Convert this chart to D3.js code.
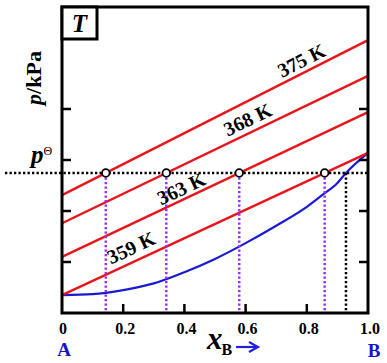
<!DOCTYPE html>
<html><head><meta charset="utf-8">
<script src="https://cdn.jsdelivr.net/npm/d3@7"></script>
<style>html,body{margin:0;padding:0;background:#fff;}svg{display:block;}</style>
</head><body>
<svg id="c" width="387" height="363"></svg>
<script>
// ---- data ----
const xTickValues = [0, 0.2, 0.4, 0.6, 0.8, 1.0];
const xTickLabels = ["0", "0.2", "0.4", "0.6", "0.8", "1.0"];
const yTickValues = [1, 2, 3, 4];
const temps = ["359 K", "363 K", "368 K", "375 K"];
const pPureA = [0.35, 1.10, 1.76, 2.31];
const pPureB = [3.14, 3.94, 4.65, 5.35];
const pStd = 2.745;
const vaporX = [0, 0.1, 0.2, 0.3, 0.4, 0.5, 0.6, 0.7, 0.8, 0.85, 0.9, 0.928, 1.0];
const vaporP = [0.35, 0.37, 0.45, 0.58, 0.80, 1.06, 1.37, 1.71, 2.08, 2.31, 2.55, 2.745, 3.14];
const dewX = 0.928;

// ---- layout ----
const L = 62, R = 368, T = 7, B = 313;
const serif = "'Liberation Serif','Times New Roman',serif";
const svg = d3.select("#c");
const x = d3.scaleLinear().domain([0, 1]).range([L, R]);
const y = d3.scaleLinear().domain([0, 6]).range([B, T]);

const red = "#e8161c", blue = "#1a1ad2", purple = "#9a33ee";

// vapor curve
svg.append("path")
  .datum(vaporX.map((d, i) => [d, vaporP[i]]))
  .attr("d", d3.line().x(d => x(d[0])).y(d => y(d[1])).curve(d3.curveMonotoneX))
  .attr("fill", "none").attr("stroke", blue).attr("stroke-width", 2.2);

// liquid lines
temps.forEach((t, i) => {
  svg.append("line")
    .attr("x1", x(0)).attr("y1", y(pPureA[i]))
    .attr("x2", x(1)).attr("y2", y(pPureB[i]))
    .attr("stroke", red).attr("stroke-width", 2.4);
});

// intersections with p standard
const liqX = temps.map((t, i) => (pStd - pPureA[i]) / (pPureB[i] - pPureA[i]));

// purple dotted verticals
liqX.forEach(v => {
  svg.append("line")
    .attr("x1", x(v)).attr("x2", x(v)).attr("y1", y(pStd)).attr("y2", B)
    .attr("stroke", purple).attr("stroke-width", 2.5).attr("stroke-dasharray", "2.3,2.2");
});
// black dotted vertical at dew point
svg.append("line")
  .attr("x1", x(dewX)).attr("x2", x(dewX)).attr("y1", y(pStd)).attr("y2", B)
  .attr("stroke", "#000").attr("stroke-width", 2.5).attr("stroke-dasharray", "2.3,2.2");
// horizontal p standard dotted
svg.append("line")
  .attr("x1", 5).attr("x2", R).attr("y1", y(pStd)).attr("y2", y(pStd))
  .attr("stroke", "#000").attr("stroke-width", 2.5).attr("stroke-dasharray", "2.3,2.2");

// circles
liqX.forEach(v => {
  svg.append("circle").attr("cx", x(v)).attr("cy", y(pStd)).attr("r", 3.8)
    .attr("fill", "#fff").attr("stroke", "#000").attr("stroke-width", 1.8);
});

// temperature labels
const labelPos = [0.245, 0.405, 0.625, 0.80];
const labelOff = [-14, -11, -13, -12];
temps.forEach((t, i) => {
  const ang = Math.atan2(y(pPureB[i]) - y(pPureA[i]), x(1) - x(0)) * 180 / Math.PI;
  const px = x(labelPos[i]);
  const py = y(pPureA[i] + (pPureB[i] - pPureA[i]) * labelPos[i]);
  svg.append("text")
    .attr("transform", `translate(${px},${py}) rotate(${ang}) translate(0,${labelOff[i]})`)
    .attr("text-anchor", "middle").attr("dominant-baseline", "central")
    .attr("font-family", serif).attr("font-weight", "bold").attr("font-size", 20)
    .text(t);
});

// frame
svg.append("rect").attr("x", L).attr("y", T).attr("width", R - L).attr("height", B - T)
  .attr("fill", "none").attr("stroke", "#000").attr("stroke-width", 3);

// ticks
const tl = 9;
xTickValues.slice(1, -1).forEach(v => {
  svg.append("line").attr("x1", x(v)).attr("x2", x(v)).attr("y1", B).attr("y2", B - tl)
    .attr("stroke", "#000").attr("stroke-width", 2.5);
});
yTickValues.forEach(v => {
  svg.append("line").attr("x1", L).attr("x2", L + tl).attr("y1", y(v)).attr("y2", y(v))
    .attr("stroke", "#000").attr("stroke-width", 2.5);
  svg.append("line").attr("x1", R).attr("x2", R - tl).attr("y1", y(v)).attr("y2", y(v))
    .attr("stroke", "#000").attr("stroke-width", 2.5);
});

// x tick labels
xTickValues.forEach((v, i) => {
  svg.append("text").attr("x", x(v) + (i === 0 ? 1 : 2)).attr("y", 334)
    .attr("text-anchor", "middle").attr("font-family", serif).attr("font-weight", "bold")
    .attr("font-size", 16).text(xTickLabels[i]);
});

// T box
svg.append("rect").attr("x", L).attr("y", T).attr("width", 35).attr("height", 32)
  .attr("fill", "#fff").attr("stroke", "#000").attr("stroke-width", 3);
svg.append("text").attr("x", L + 17.5).attr("y", T + 25).attr("text-anchor", "middle")
  .attr("font-family", serif).attr("font-style", "italic").attr("font-weight", "bold")
  .attr("font-size", 25).text("T");

// y label
const yl = svg.append("text").attr("transform", "translate(41,78) rotate(-90)")
  .attr("text-anchor", "middle").attr("font-family", serif).attr("font-weight", "bold")
  .attr("font-size", 22);
yl.append("tspan").attr("font-style", "italic").text("p");
yl.append("tspan").text("/kPa");

// p standard label
const ps = svg.append("text").attr("x", 31).attr("y", 163).attr("font-family", serif)
  .attr("font-size", 25).attr("font-style", "italic").attr("font-weight", "bold");
ps.append("tspan").text("p");
ps.append("tspan").attr("font-size", 12).attr("font-style", "normal").attr("font-weight", "normal")
  .attr("dy", -8).text("Θ");

// A, B
svg.append("text").attr("x", 64).attr("y", 356).attr("text-anchor", "middle")
  .attr("font-family", serif).attr("font-weight", "bold").attr("font-size", 19)
  .attr("fill", "#1515c8").text("A");
svg.append("text").attr("x", 374).attr("y", 357).attr("text-anchor", "middle")
  .attr("font-family", serif).attr("font-weight", "bold").attr("font-size", 19)
  .attr("fill", "#1515c8").text("B");

// x_B arrow label
const xl = svg.append("text").attr("x", 207).attr("y", 349).attr("font-family", serif)
  .attr("font-weight", "bold");
xl.append("tspan").attr("font-style", "italic").attr("font-size", 31).text("x");
xl.append("tspan").attr("font-size", 16).attr("dy", 6).attr("dx", -1).text("B");
svg.append("line").attr("x1", 236).attr("x2", 256).attr("y1", 347).attr("y2", 347)
  .attr("stroke", "#2020e0").attr("stroke-width", 2.2);
svg.append("path").attr("d", "M249,342 L258,347 L249,352")
  .attr("fill", "none").attr("stroke", "#2020e0").attr("stroke-width", 2.2);
</script>
</body></html>
